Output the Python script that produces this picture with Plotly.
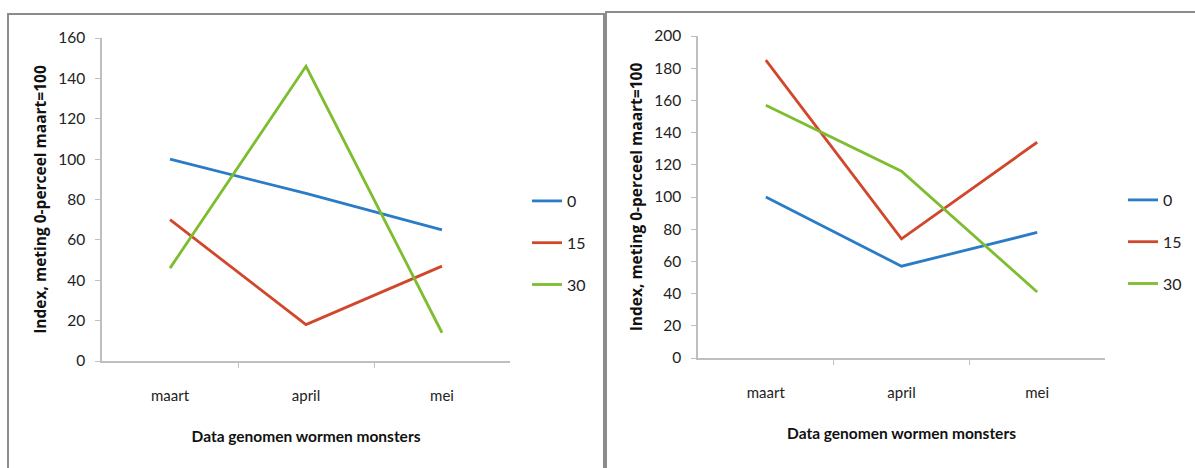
import plotly.graph_objects as go

categories = ["maart", "april", "mei"]
series_names = ["0", "15", "30"]

left_0 = [100, 83, 65]
left_15 = [70, 18, 47]
left_30 = [46, 146, 14]

right_0 = [100, 57, 78]
right_15 = [185, 74, 134]
right_30 = [157, 116, 41]

y_ticks_left = [0, 20, 40, 60, 80, 100, 120, 140, 160]
y_ticks_right = [0, 20, 40, 60, 80, 100, 120, 140, 160, 180, 200]

colors = ["#2A7CC6", "#D1472B", "#7DBD2F"]
W, H = 1195, 468
FONT = "Lato"

def px(x):
    return x / W

def py(y):
    return (H - y) / H

fig = go.Figure()
xpos = list(range(len(categories)))

for name, vals, c in zip(series_names, [left_0, left_15, left_30], colors):
    fig.add_trace(go.Scatter(x=xpos, y=vals, mode="lines", name=name,
                             line=dict(color=c, width=2.8), xaxis="x", yaxis="y",
                             legend="legend", legendgroup="L" + name))
for name, vals, c in zip(series_names, [right_0, right_15, right_30], colors):
    fig.add_trace(go.Scatter(x=xpos, y=vals, mode="lines", name=name,
                             line=dict(color=c, width=2.8), xaxis="x2", yaxis="y2",
                             legend="legend2", legendgroup="R" + name))

axis_gray = "#BFBFBF"
xcommon = dict(range=[-0.5, 2.5], tickmode="array", tickvals=xpos, ticktext=categories,
               showline=True, linecolor=axis_gray, linewidth=1.5, showgrid=False,
               zeroline=False, ticks="", ticklabelstandoff=20, automargin=False,
               tickfont=dict(family=FONT, size=15, color="#222"),
               minor=dict(tickmode="array", tickvals=[0.5, 1.5], ticks="outside",
                          ticklen=5, tickcolor=axis_gray, showgrid=False),
               title=dict(text="<b>Data genomen wormen monsters</b>",
                          font=dict(family=FONT, size=15.5, color="#111"), standoff=28))
ycommon = dict(showline=True, linecolor=axis_gray, linewidth=1.5, showgrid=False,
               zeroline=False, ticks="outside", ticklen=5, tickcolor=axis_gray,
               automargin=False, ticklabelstandoff=7,
               tickfont=dict(family=FONT, size=15.5, color="#222"),
               title=dict(text="<b>Index, meting 0-perceel maart=100</b>",
                          font=dict(family="Open Sans", size=15.5, color="#111"), standoff=8))

fig.update_layout(
    width=W, height=H, margin=dict(l=0, r=0, t=0, b=0),
    paper_bgcolor="white", plot_bgcolor="white",
    xaxis=dict(xcommon, domain=[px(102), px(510)], anchor="y"),
    yaxis=dict(ycommon, domain=[py(361), py(38)], range=[0, 160],
               tickvals=y_ticks_left, anchor="x"),
    xaxis2=dict(xcommon, domain=[px(698), px(1105)], anchor="y2"),
    yaxis2=dict(ycommon, domain=[py(358), py(36)], range=[0, 200],
                tickvals=y_ticks_right, anchor="x2"),
    legend=dict(x=px(527), y=py(184), xanchor="left", yanchor="top",
                font=dict(family=FONT, size=16, color="#222"),
                traceorder="grouped", tracegroupgap=18, itemwidth=30,
                bgcolor="rgba(0,0,0,0)"),
    legend2=dict(x=px(1123), y=py(183), xanchor="left", yanchor="top",
                 font=dict(family=FONT, size=16, color="#222"),
                 traceorder="grouped", tracegroupgap=18, itemwidth=30,
                 bgcolor="rgba(0,0,0,0)"),
    shapes=[
        dict(type="rect", xref="paper", yref="paper", x0=px(8), x1=px(604),
             y0=py(475), y1=py(14), line=dict(color="#8C8C8C", width=2)),
        dict(type="rect", xref="paper", yref="paper", x0=px(606), x1=px(1205),
             y0=py(475), y1=py(12), line=dict(color="#8C8C8C", width=2)),
    ],
)

fig.write_html("out.html")
